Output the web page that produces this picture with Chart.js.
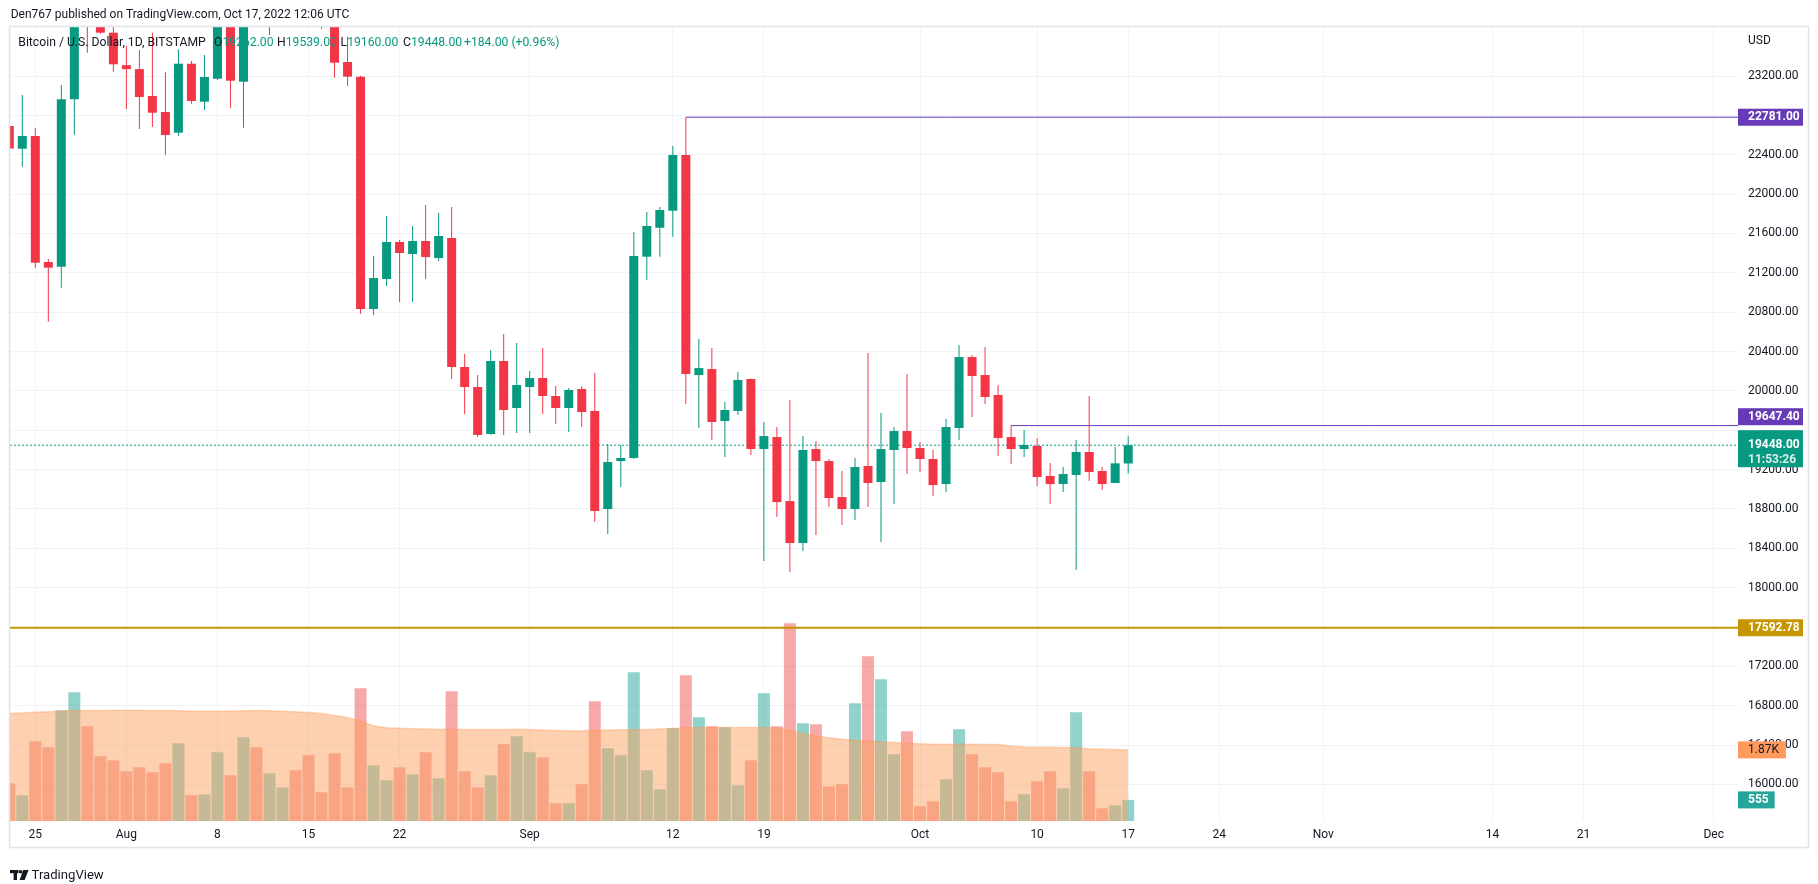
<!DOCTYPE html>
<html>
<head>
<meta charset="utf-8">
<title>BTCUSD 1D</title>
<script src="https://cdn.jsdelivr.net/npm/chart.js@4.4.1/dist/chart.umd.min.js"></script>
<style>
  html, body { margin: 0; padding: 0; background: #fff; }
  canvas { display: block; }
</style>
</head>
<body>
<canvas id="btc-chart" width="1818" height="884"></canvas>
<script>
// Daily candles from 2022-07-23 (index 0) to 2022-10-17 (index 86)
const firstDay = '2022-07-23';

const opens = [
  22692, 22461, 22590, 21310, 21262, 22963, 23850, 23780, 23640,
  23310, 23270, 22997, 22834, 22624, 23325, 22939, 23172, 23810, 23142, 23950, 23940, 24400, 24440, 24300, 24110,
  23860, 23342, 23193, 20832, 21137, 21513, 21391, 21523, 21350, 21554, 20243, 20039, 19562, 20304, 19826,
  20039, 20131, 19948, 19826, 20019, 19795, 18799, 19287, 19318, 21364, 21658, 21831, 22397, 20161, 20222,
  19694, 19796, 20121, 19409, 19531, 18880, 18454, 19409, 19287, 18921, 18799, 19237, 19074, 19399, 19592,
  19419, 19308, 19053, 19623, 20344, 20161, 19958, 19531, 19409, 19440, 19135, 19053, 19145, 19379, 19186, 19064, 19262
];
const highs = [
  22720, 23007, 22672, 21340, 23109, 24200, 24440, 24660, 24180,
  23505, 23464, 23640, 23238, 23471, 23352, 23413, 24230, 23920, 24230, 24900, 24450, 24890, 25200, 25100, 24240,
  24440, 23600, 23203, 21371, 21777, 21533, 21676, 21889, 21808, 21869, 20375, 20161, 20415, 20578, 20487,
  20202, 20436, 20049, 20029, 20049, 20182, 19460, 19450, 21615, 21818, 21869, 22489, 22781, 20527, 20436,
  19887, 20192, 20125, 19684, 19633, 19907, 19541, 19490, 19308, 19186, 19318, 20385, 19775, 19633, 20171,
  19480, 19399, 19714, 20466, 20365, 20446, 20060, 19647.4, 19602, 19521, 19267, 19226, 19501, 19948, 19226, 19429, 19539
];
const lows = [
  22420, 22278, 21252, 20703, 21049, 22603, 23437, 23630, 23244,
  22865, 22661, 22682, 22400, 22590, 22918, 22854, 23160, 22875, 22675, 23880, 23617, 24300, 24150, 23760, 23678,
  23183, 23098, 20781, 20771, 21066, 20903, 20903, 21137, 21320, 20121, 19765, 19531, 19555, 19552, 19572,
  19572, 19765, 19663, 19582, 19633, 18667, 18545, 19023, 19308, 21127, 21364, 21567, 19867, 19623, 19501,
  19328, 19755, 19348, 18271, 18718, 18159, 18372, 18535, 18820, 18637, 18688, 18820, 18464, 18850, 19155,
  19175, 18932, 18972, 19501, 19735, 19867, 19338, 19257, 19328, 19033, 18850, 18972, 18179, 19084, 18992, 19064, 19160
];
const closes = [
  22463, 22590, 21303, 21252, 22963, 23850, 23780, 23640, 23319,
  23270, 22987, 22827, 22600, 23325, 22946, 23190, 23810, 23152, 23950, 23940, 24400, 24440, 24300, 24110, 23860,
  23335, 23193, 20832, 21147, 21513, 21401, 21523, 21360, 21574, 20243, 20039, 19552, 20304, 19806, 20060,
  20131, 19948, 19826, 20009, 19785, 18779, 19277, 19318, 21371, 21676, 21838, 22397, 20171, 20232, 19684,
  19806, 20111, 19409, 19541, 18870, 18454, 19399, 19287, 18911, 18799, 19226, 19064, 19409, 19592, 19419,
  19308, 19043, 19633, 20344, 20151, 19938, 19521, 19409, 19450, 19125, 19053, 19155, 19379, 19175, 19053, 19264, 19448
];
const volumes = [
  991, 676, 2096, 1938, 2911, 3385, 2491, 1702, 1596,
  1307, 1412, 1281, 1518, 2044, 676, 702, 1807, 1202, 2201, 1938, 1255, 886, 1333, 1728, 755,
  1781, 886, 3490, 1465, 1070, 1412, 1228, 1807, 1123, 3411, 1307, 886, 1202, 2017, 2228,
  1807, 1675, 466, 466, 965, 3148, 1912, 1728, 3911, 1333, 834, 2438, 3832, 2727, 2491,
  2464, 939, 1596, 3359, 2491, 5200, 2570, 2543, 913, 965, 3096, 4332, 3727, 1754, 2359,
  387, 518, 1097, 2412, 1754, 1412, 1281, 518, 702, 1044, 1307, 860, 2859, 1307, 334, 413, 555
];
const volumeMA = [
  2825, 2843, 2859, 2875, 2890, 2904, 2906, 2909, 2911,
  2911, 2911, 2909, 2904, 2898, 2893, 2888, 2885, 2890, 2898, 2904, 2898, 2885, 2872, 2856, 2825,
  2777, 2725, 2630, 2499, 2454, 2438, 2427, 2420, 2414, 2409, 2406, 2404, 2406, 2409, 2412,
  2404, 2393, 2383, 2372, 2372, 2385, 2393, 2399, 2401, 2406, 2417, 2435, 2451, 2456, 2456,
  2456, 2456, 2456, 2456, 2446, 2380, 2301, 2236, 2188, 2151, 2125, 2104, 2086, 2065, 2046,
  2030, 2020, 2017, 2017, 2017, 2015, 2009, 1973, 1946, 1941, 1938, 1933, 1928, 1901, 1886, 1878, 1870
];

// time axis ticks (day index from firstDay) and their labels
const tickDays = [2, 9, 16, 23, 30, 40, 51, 58, 70, 79, 86, 93, 101, 114, 121, 131];
const tickLabels = ['25', 'Aug', '8', '15', '22', 'Sep', '12', '19', 'Oct', '10', '17', '24', 'Nov', '14', '21', 'Dec'];
const priceTicks = [16000, 16400, 16800, 17200, 17600, 18000, 18400, 18800, 19200, 19600,
  20000, 20400, 20800, 21200, 21600, 22000, 22400, 22800, 23200];

// horizontal levels drawn on the chart
const resistanceLevel = 22781.00, resistanceFrom = 52;   // Sep 13 high
const pivotLevel = 19647.40, pivotFrom = 77;             // Oct 8 high
const supportLevel = 17592.78;
const countdown = '11:53:26';

const X_MIN = 0.055, X_MAX = 132.87;
const P_MIN = 15629, P_MAX = 23698;
const VOL_MAX = 20882;

const GREEN = '#089981', RED = '#f23645', PURPLE = '#673ab7', GOLD = '#c69600';
const TEXT = '#131722';
const FONT = 'Roboto, "Noto Sans", sans-serif';
Chart.defaults.font.family = FONT;

const last = closes.length - 1;
const up = opens.map((o, i) => closes[i] >= o);
const candleColors = up.map(u => u ? GREEN : RED);
const volColors = up.map(u => u ? 'rgba(38,166,154,0.5)' : 'rgba(239,83,80,0.5)');

const wickData = opens.map((o, i) => ({ x: i, y: [lows[i], highs[i]] }));
const bodyData = opens.map((o, i) => ({ x: i, y: [o, closes[i]] }));
const volData = volumes.map((v, i) => ({ x: i, y: v }));
const maData = volumeMA.map((v, i) => ({ x: i, y: v }));

function levelLine(y, from, color, width, dash, order) {
  return {
    type: 'line', data: [{ x: from, y: y }, { x: X_MAX, y: y }],
    borderColor: color, borderWidth: width, borderDash: dash || [],
    pointRadius: 0, fill: false, yAxisID: 'y', order: order, clip: 0
  };
}

function text(c, s, x, y, font, color, align) {
  c.font = font;
  c.fillStyle = color;
  c.textAlign = align || 'left';
  c.textBaseline = 'middle';
  c.fillText(s, x, y);
  return c.measureText(s).width;
}

// font size that makes s about w pixels wide
function fitSize(c, s, w) {
  c.font = '20px ' + FONT;
  return Math.round(20 * w / c.measureText(s).width * 10) / 10;
}

const overlay = {
  id: 'overlay',
  afterDraw(chart) {
    const c = chart.ctx, area = chart.chartArea;
    const ys = chart.scales.y, yv = chart.scales.yVol;
    c.save();

    // frame
    c.strokeStyle = '#e0e3eb';
    c.lineWidth = 1.5;
    c.strokeRect(9.5, 26.5, 1799, 821);

    // header
    const head = 'Den767 published on TradingView.com, Oct 17, 2022 12:06 UTC';
    text(c, head, 10.7, 15, fitSize(c, head, 339) + 'px ' + FONT, TEXT);

    // legend
    const title = 'Bitcoin / U.S. Dollar, 1D, BITSTAMP';
    const lf = fitSize(c, title, 187) + 'px ' + FONT;
    text(c, title, 18.3, 43, lf, TEXT);
    const items = [['O', opens[last], 214], ['H', highs[last], 277], ['L', lows[last], 340.6], ['C', closes[last], 403]];
    items.forEach(([k, v, x]) => {
      const w = text(c, k, x, 43, lf, TEXT);
      text(c, v.toFixed(2), x + w, 43, lf, GREEN);
    });
    const chg = closes[last] - closes[last - 1];
    const pct = chg / closes[last - 1] * 100;
    text(c, '+' + chg.toFixed(2) + ' (+' + pct.toFixed(2) + '%)', 464, 43, lf, GREEN);

    // currency
    text(c, 'USD', area.right + 10, 41, '12px ' + FONT, TEXT);

    // price axis labels
    const boxW = 65;
    function priceBox(y, bg, s) {
      c.fillStyle = bg;
      c.fillRect(area.right, y - 8.5, boxW, 17);
      text(c, s, area.right + 10, y, 'bold 12px ' + FONT, '#ffffff');
    }
    priceBox(ys.getPixelForValue(resistanceLevel), PURPLE, resistanceLevel.toFixed(2));

    const yLast = ys.getPixelForValue(closes[last]);
    const greenTop = yLast - 15;
    let yPivot = ys.getPixelForValue(pivotLevel);
    if (yPivot + 8.5 > greenTop - 5) yPivot = greenTop - 5 - 8.5;
    // tick labels under the stacked labels are hidden
    c.fillStyle = '#ffffff';
    c.fillRect(area.right + 1, yPivot - 8.5, boxW, greenTop - yPivot + 8.5);
    priceBox(yPivot, PURPLE, pivotLevel.toFixed(2));

    c.fillStyle = GREEN;
    c.fillRect(area.right, greenTop, boxW, 37);
    text(c, closes[last].toFixed(2), area.right + 10, yLast, 'bold 12px ' + FONT, '#ffffff');
    text(c, countdown, area.right + 10, yLast + 15, 'bold 12px ' + FONT, 'rgba(255,255,255,0.85)');

    priceBox(ys.getPixelForValue(supportLevel), GOLD, supportLevel.toFixed(2));

    // volume labels
    const yMa = yv.getPixelForValue(volumeMA[last]);
    c.font = '12px ' + FONT;
    const maTxt = (volumeMA[last] / 1000).toFixed(2) + 'K';
    let w = c.measureText(maTxt).width;
    c.fillStyle = '#ff9a5c';
    c.fillRect(area.right, yMa - 8.5, w + 17, 17);
    text(c, maTxt, area.right + 10, yMa, '12px ' + FONT, TEXT);

    const yVolLast = yv.getPixelForValue(volumes[last]);
    c.font = 'bold 12px ' + FONT;
    const vTxt = String(volumes[last]);
    w = c.measureText(vTxt).width;
    c.fillStyle = '#26a69a';
    c.fillRect(area.right, yVolLast - 8.5, w + 16, 17);
    text(c, vTxt, area.right + 10, yVolLast, 'bold 12px ' + FONT, '#ffffff');

    // TradingView mark
    c.fillStyle = TEXT;
    c.fillRect(10, 870, 8.5, 3.2);
    c.fillRect(13.6, 870, 3.4, 10);
    c.beginPath();
    c.arc(20.6, 871.7, 1.8, 0, Math.PI * 2);
    c.fill();
    c.beginPath();
    c.moveTo(23.2, 870);
    c.lineTo(28.6, 870);
    c.lineTo(24.6, 880);
    c.lineTo(19.6, 880);
    c.closePath();
    c.fill();
    text(c, 'TradingView', 31.6, 875.5, fitSize(c, 'TradingView', 72) + 'px ' + FONT, TEXT);

    c.restore();
  }
};

const ctx = document.getElementById('btc-chart');

const btcChart = new Chart(ctx, {
  type: 'bar',
  data: {
    datasets: [{
      label: 'Volume',
      data: volData,
      yAxisID: 'yVol',
      backgroundColor: volColors,
      barThickness: 12,
      grouped: false,
      inflateAmount: 0,
      order: 10,
      clip: 0
    }, {
      type: 'line',
      label: 'Volume MA',
      data: maData,
      yAxisID: 'yVol',
      borderColor: 'rgba(255,150,80,0.35)',
      borderWidth: 1.5,
      backgroundColor: 'rgba(251,161,97,0.5)',
      fill: 'origin',
      pointRadius: 0,
      order: 9,
      clip: 0
    },
      levelLine(supportLevel, X_MIN, GOLD, 2, null, 8),
      levelLine(resistanceLevel, resistanceFrom, PURPLE, 1, null, 7),
      levelLine(pivotLevel, pivotFrom, PURPLE, 1, null, 7),
      levelLine(closes[last], X_MIN, GREEN, 1, [2, 2], 6),
    {
      label: 'Wicks',
      data: wickData,
      yAxisID: 'y',
      backgroundColor: candleColors,
      barThickness: 1,
      grouped: false,
      inflateAmount: 0,
      order: 2,
      clip: 0
    }, {
      label: 'Bodies',
      data: bodyData,
      yAxisID: 'y',
      backgroundColor: candleColors,
      barThickness: 9,
      minBarLength: 1,
      grouped: false,
      inflateAmount: 0,
      order: 1,
      clip: 0
    }]
  },
  options: {
    responsive: false,
    animation: false,
    events: [],
    layout: { padding: { left: 10, top: 27, right: 10, bottom: 36 } },
    plugins: {
      legend: { display: false },
      tooltip: { enabled: false }
    },
    scales: {
      x: {
        type: 'linear',
        min: X_MIN,
        max: X_MAX,
        offset: false,
        grid: { color: '#f0f3fa', drawTicks: false, offset: false },
        border: { display: false },
        ticks: {
          autoSkip: false,
          maxRotation: 0,
          padding: 7,
          color: TEXT,
          font: { size: 12 },
          callback: (v, i) => tickLabels[i]
        },
        afterBuildTicks: s => { s.ticks = tickDays.map(d => ({ value: d })); },
        afterFit: s => { s.height = 27; }
      },
      y: {
        position: 'right',
        min: P_MIN,
        max: P_MAX,
        beginAtZero: false,
        grid: { color: '#f0f3fa', drawTicks: false },
        border: { display: false },
        ticks: {
          padding: 10,
          color: TEXT,
          font: { size: 12 },
          callback: v => v.toFixed(2)
        },
        afterBuildTicks: s => { s.ticks = priceTicks.map(p => ({ value: p })); },
        afterFit: s => { s.width = 70; }
      },
      yVol: {
        display: false,
        min: 0,
        max: VOL_MAX,
        beginAtZero: true
      }
    }
  },
  plugins: [overlay]
});
</script>
</body>
</html>
